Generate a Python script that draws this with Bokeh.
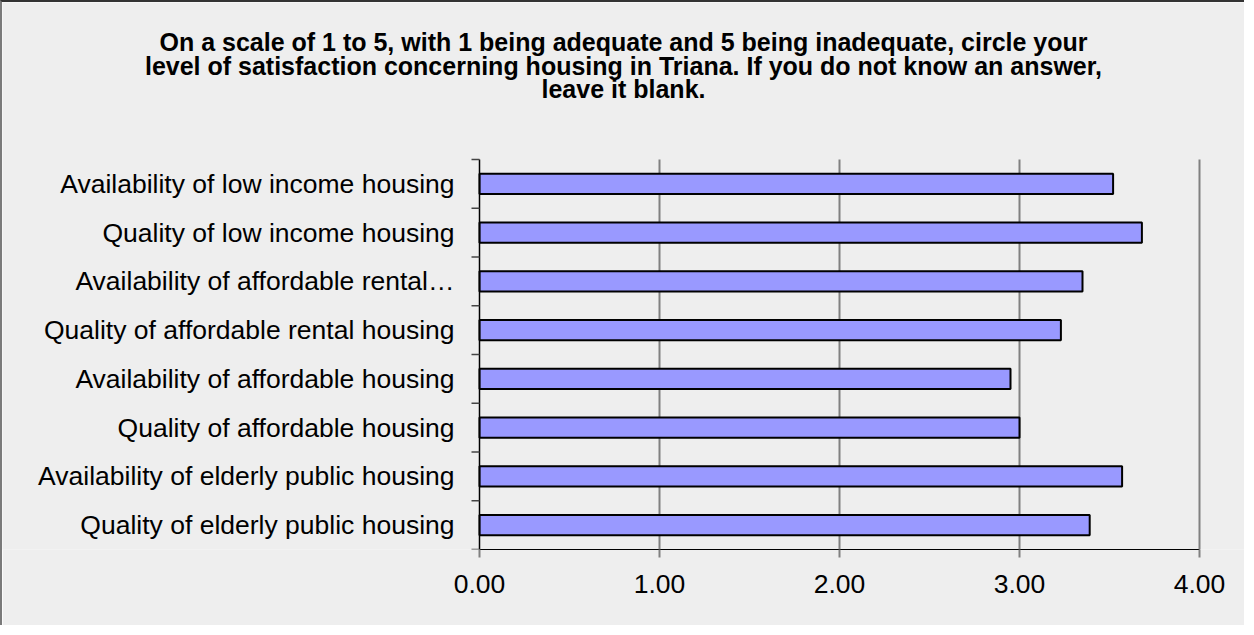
import math
from bokeh.plotting import figure
from bokeh.models import Range1d, FixedTicker, ColumnDataSource
from bokeh.embed import file_html
from bokeh.resources import INLINE
from bokeh.core.properties import value

# ---- data ----
categories = [
    "Availability of low income housing",
    "Quality of low income housing",
    "Availability of affordable rental\u2026",
    "Quality of affordable rental housing",
    "Availability of affordable housing",
    "Quality of affordable housing",
    "Availability of elderly public housing",
    "Quality of elderly public housing",
]
scores = [3.52, 3.68, 3.35, 3.23, 2.95, 3.00, 3.57, 3.39]
x_ticks = [0, 1, 2, 3, 4]
x_tick_labels = ["0.00", "1.00", "2.00", "3.00", "4.00"]
title_lines = [
    "On a scale of 1 to 5, with 1 being adequate and 5 being inadequate, circle your",
    "level of satisfaction concerning housing in Triana. If you do not know an answer,",
    "leave it blank.",
]

n = len(categories)
ypos = [i + 0.5 for i in range(n)]
bounds_y = list(range(n + 1))
src = ColumnDataSource(dict(y=ypos, score=scores, cat=categories))

FONT = "Liberation Sans"
BG = "#EEEEEE"

# ---- layout (canvas pixels) ----
W, H = 1244, 625
bars_top, bars_h = 157, 390     # canvas y of first band top, height of band area
zero_px = 477                   # canvas x of value 0
px_x = 180.0                    # pixels per unit on x
px_y = bars_h / n               # pixels per band
bottom_border = H - bars_top - bars_h

def ydata(canvas_y):
    return (canvas_y - bars_top) / px_y

p = figure(
    width=W, height=H,
    x_range=Range1d(-zero_px / px_x, (W - zero_px) / px_x),
    y_range=Range1d(n, ydata(0)),
    output_backend="svg", toolbar_location=None,
    min_border_left=0, min_border_right=0,
    min_border_top=0, min_border_bottom=bottom_border,
    background_fill_color=BG, border_fill_color=BG,
    styles={"border-left": "2px solid #7a7a7a", "border-top": "2px solid #333333"},
)
p.outline_line_color = None
p.grid.visible = False
p.yaxis.visible = False

# title lines
title_src = ColumnDataSource(dict(
    x=[(621 - zero_px) / px_x] * len(title_lines),
    y=[ydata(b) for b in (39.0, 63.0, 86.5)],
    t=title_lines,
))
p.text(x="x", y="y", text="t", source=title_src,
       text_align="center", text_baseline="alphabetic",
       text_font=value(FONT), text_font_style="bold", text_font_size="25px",
       text_color="black")

# vertical grid lines at the x ticks (within the band area)
grid_x = x_ticks[1:]
p.segment(x0=grid_x, y0=[0] * len(grid_x), x1=grid_x, y1=[n] * len(grid_x),
          line_color="#808080", line_width=2)

# bars
p.hbar(y="y", right="score", left=0, height=0.42, source=src,
       fill_color="#9999FF", line_color="black", line_width=2)

# category labels at value 0
p.text(x=0, y="y", text="cat", source=src, x_offset=-25,
       text_align="right", text_baseline="middle",
       text_font=value(FONT), text_font_size="26.5px", text_color="black")

# y axis line and boundary ticks
p.segment(x0=[0], y0=[0], x1=[0], y1=[n], line_color="black", line_width=1.5)
p.ray(x=0, y=bounds_y, length=8, length_units="screen", angle=math.pi,
      line_color="#444444", line_width=1.5)

# x axis
p.xaxis.bounds = (x_ticks[0], x_ticks[-1])
p.xaxis.ticker = FixedTicker(ticks=x_ticks)
p.xaxis.major_label_overrides = {t: l for t, l in zip(x_ticks, x_tick_labels)}
p.xaxis.axis_line_color = "black"
p.xaxis.axis_line_width = 1
p.xaxis.major_tick_line_color = "#808080"
p.xaxis.major_tick_line_width = 2
p.xaxis.major_tick_in = 0
p.xaxis.major_tick_out = 8
p.xaxis.minor_tick_line_color = None
p.xaxis.major_label_text_font = FONT
p.xaxis.major_label_text_font_size = "26.5px"
p.xaxis.major_label_text_color = "black"
p.xaxis.major_label_standoff = 17

open("out.html", "w").write(file_html(p, INLINE))
